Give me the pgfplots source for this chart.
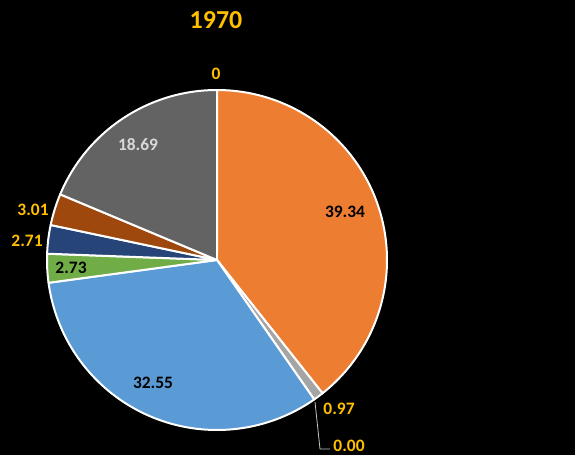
\documentclass[border=0pt]{standalone}
\usepackage{pgfplots}
\pgfplotsset{compat=1.18}
\usepackage{fontspec}
\setmainfont{Carlito}
\definecolor{cOrange}{HTML}{ED7D31}
\definecolor{cGray}{HTML}{A5A5A5}
\definecolor{cBlue}{HTML}{5B9BD5}
\definecolor{cGreen}{HTML}{70AD47}
\definecolor{cNavy}{HTML}{264478}
\definecolor{cBrown}{HTML}{9E480E}
\definecolor{cDark}{HTML}{636363}
\definecolor{cGold}{HTML}{FFC000}
\definecolor{cLight}{HTML}{D9D9D9}
% slice values (clockwise from 12 o'clock)
\def\vA{0}
\def\vB{39.34}
\def\vC{0.97}
\def\vD{0.00}
\def\vE{32.55}
\def\vF{2.73}
\def\vG{2.71}
\def\vH{3.01}
\def\vI{18.69}
\pgfmathsetmacro\aA{90-3.6*\vA}
\pgfmathsetmacro\aB{\aA-3.6*\vB}
\pgfmathsetmacro\aC{\aB-3.6*\vC}
\pgfmathsetmacro\aD{\aC-3.6*\vD}
\pgfmathsetmacro\aE{\aD-3.6*\vE}
\pgfmathsetmacro\aF{\aE-3.6*\vF}
\pgfmathsetmacro\aG{\aF-3.6*\vG}
\pgfmathsetmacro\aH{\aG-3.6*\vH}
\pgfmathsetmacro\aI{\aH-3.6*\vI}
\newcommand\slice[3]{%
  \addplot[fill=#1, draw=white, line width=2pt, line join=round,
    domain=#3:#2, samples=120, variable=\t]
    ({217+170*cos(\t)},{195+170*sin(\t)}) -- (axis cs:217,195) -- cycle;}
\begin{document}
\begin{tikzpicture}[lbl/.style={font=\bfseries\fontsize{17.5}{20}\selectfont}]
\begin{axis}[
  width=575bp, height=455bp, scale only axis,
  xmin=0, xmax=575, ymin=0, ymax=455,
  hide axis, clip=false,
]
\fill[black] (axis cs:0,0) rectangle (axis cs:575,455);
\slice{cOrange}{\aA}{\aB}
\slice{cGray}{\aB}{\aC}
\slice{cBlue}{\aD}{\aE}
\slice{cGreen}{\aE}{\aF}
\slice{cNavy}{\aF}{\aG}
\slice{cBrown}{\aG}{\aH}
\slice{cDark}{\aH}{\aI}
% leader line for 0.00
\draw[cLight!80!gray, line width=0.8pt] (axis cs:315,53) -- (axis cs:320,6) -- (axis cs:330,6);
% labels
\node[font=\bfseries\fontsize{26}{30}\selectfont, text=cGold] at (axis cs:216,435) {1970};
\node[lbl, text=cGold] at (axis cs:216,381) {0};
\node[lbl, text=black] at (axis cs:345,243) {39.34};
\node[lbl, text=cGold] at (axis cs:339,46) {0.97};
\node[lbl, text=cGold] at (axis cs:349,9) {0.00};
\node[lbl, text=black] at (axis cs:153,72) {32.55};
\node[lbl, text=black] at (axis cs:71,187) {2.73};
\node[lbl, text=cGold] at (axis cs:27,214) {2.71};
\node[lbl, text=cGold] at (axis cs:33,245) {3.01};
\node[lbl, text=cLight] at (axis cs:138,310) {18.69};
\end{axis}
\end{tikzpicture}
\end{document}
